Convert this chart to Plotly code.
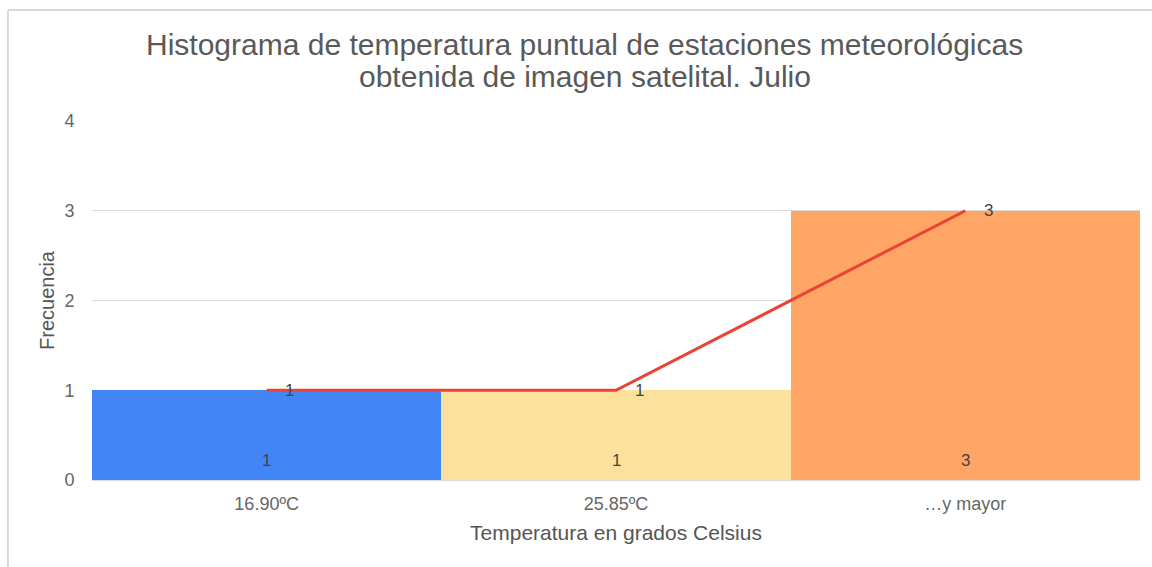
import plotly.graph_objects as go

# Histogram bins (upper limits) and their frequencies
categorias = ["16.90ºC", "25.85ºC", "…y mayor"]
frecuencias = [1, 1, 3]
colores_barras = ["#4285F4", "#FBE19C", "#FFA566"]

titulo_lineas = [
    "Histograma de temperatura puntual de estaciones meteorológicas",
    "obtenida de imagen satelital. Julio",
]

fuente = "Liberation Sans, Arial, sans-serif"
color_etiqueta = "#444444"

fig = go.Figure()

fig.add_trace(go.Bar(
    x=categorias,
    y=frecuencias,
    marker=dict(color=colores_barras, line=dict(width=0)),
    showlegend=False,
    hoverinfo="x+y",
))

fig.add_trace(go.Scatter(
    x=categorias,
    y=frecuencias,
    mode="lines",
    line=dict(color="#EA4335", width=3),
    showlegend=False,
    cliponaxis=False,
))

# Value labels: at the base of each bar and beside each line point
for cat, val in zip(categorias, frecuencias):
    fig.add_annotation(x=cat, y=0, text=str(val), showarrow=False,
                       yshift=20, font=dict(size=17, color=color_etiqueta))
    fig.add_annotation(x=cat, y=val, text=str(val), showarrow=False,
                       xshift=23, font=dict(size=17, color=color_etiqueta))

# Two-line title
for texto, y in zip(titulo_lineas, [1.2117, 1.1226]):
    fig.add_annotation(xref="paper", yref="paper", x=0.4704, y=y,
                       xanchor="center", yanchor="middle", showarrow=False,
                       text=texto, font=dict(size=30, color="#595959"))

# Frame around the chart (left and top edges)
fig.add_shape(type="line", xref="paper", yref="paper",
              x0=-0.0802, x1=-0.0802, y0=-0.3, y1=1.309,
              line=dict(color="#D9D9D9", width=2))
fig.add_shape(type="line", xref="paper", yref="paper",
              x0=-0.0802, x1=1.2, y0=1.309, y1=1.309,
              line=dict(color="#D9D9D9", width=2))

fig.update_layout(
    width=1152,
    height=567,
    margin=dict(l=92, r=12, t=121, b=87),
    paper_bgcolor="white",
    plot_bgcolor="white",
    bargap=0,
    font=dict(family=fuente, color="#555555"),
    xaxis=dict(
        title=dict(text="Temperatura en grados Celsius",
                   font=dict(size=21, color="#555555"), standoff=12),
        tickfont=dict(size=18, color="#666666"),
        showgrid=False,
        showline=False,
        ticks="outside",
        ticklen=7,
        tickcolor="white",
        zeroline=False,
    ),
    yaxis=dict(
        title=dict(text="Frecuencia", font=dict(size=20, color="#555555"),
                   standoff=4),
        range=[0, 4],
        dtick=1,
        tickfont=dict(size=18, color="#666666"),
        showgrid=True,
        gridcolor="#D9D9D9",
        gridwidth=1,
        zeroline=True,
        zerolinecolor="#D9D9D9",
        zerolinewidth=1,
        ticks="outside",
        ticklen=13,
        tickcolor="white",
    ),
)

fig.write_html("out.html")
